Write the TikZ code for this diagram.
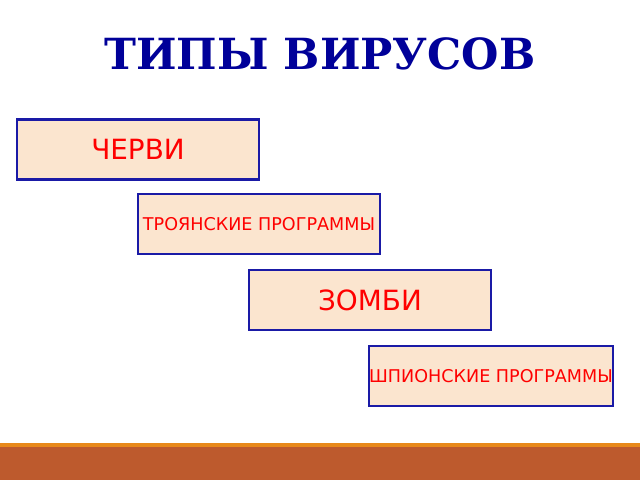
\documentclass[tikz,border=0pt]{standalone}
\usepackage{fontspec}
\setmainfont{DejaVu Sans}
\newfontfamily\titlefont{DejaVu Serif}
\definecolor{titleblue}{HTML}{000099}
\definecolor{boxfill}{HTML}{FBE5CF}
\definecolor{boxline}{HTML}{1A1AA6}
\definecolor{barorange}{HTML}{E8891A}
\definecolor{barbrown}{HTML}{BD5A2D}
\tikzset{
  virusbox/.style={draw=boxline, line width=1.6pt, fill=boxfill, minimum width=6.05cm,
    minimum height=1.5cm, inner sep=0pt, text=red},
  bigtext/.style={font=\fontsize{19.8}{23}\selectfont},
  smalltext/.style={font=\fontsize{12.5}{14}\selectfont}
}
\begin{document}
\begin{tikzpicture}[x=0.025cm, y=-0.025cm]
  % рамка
  \useasboundingbox (0,0) rectangle (640,480);
  \fill[white] (0,0) rectangle (640,480);
  % заголовок
  \node[text=titleblue, font=\titlefont\bfseries\fontsize{30.5}{36}\selectfont] (title) at (320,54) {ТИПЫ ВИРУСОВ};
  % блоки
  \node[virusbox, bigtext] (worms) at (138,149.5) {ЧЕРВИ};
  \node[virusbox, smalltext] (trojans) at (259,224) {ТРОЯНСКИЕ ПРОГРАММЫ};
  \node[virusbox, bigtext] (zombie) at (370,300) {ЗОМБИ};
  \node[virusbox, smalltext] (spyware) at (491,376) {ШПИОНСКИЕ ПРОГРАММЫ};
  % нижняя полоса
  \fill[barorange] (0,443) rectangle (640,447);
  \fill[barbrown] (0,447) rectangle (640,480);
\end{tikzpicture}
\end{document}
